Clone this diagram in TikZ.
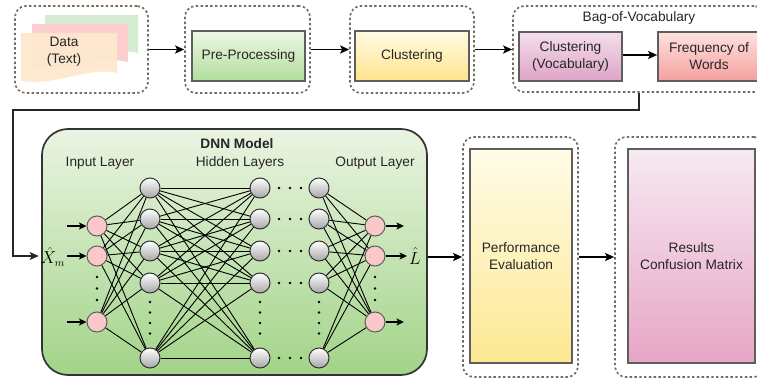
\documentclass[tikz,border=0pt]{standalone}
\usepackage{fontspec}
\setmainfont{Liberation Sans}
\usetikzlibrary{arrows.meta,calc}
\definecolor{dashc}{HTML}{756B5C}
\definecolor{boxc}{HTML}{5E5E5E}
\definecolor{txtc}{HTML}{262626}
\begin{document}
\begin{tikzpicture}[x=1pt,y=-1pt,
  every node/.style={font=\fontsize{13.7}{17}\selectfont, text=txtc},
  dashbox/.style={draw=dashc, line width=1.7pt, dash pattern=on 2.4pt off 2.4pt, rounded corners=11pt, inner sep=0pt},
  procbox/.style={draw=boxc, line width=1.7pt, inner sep=0pt, align=center},
  arr/.style={-{Stealth[length=9pt,width=8pt,inset=2pt]}, line width=1.7pt, draw=black},
  narr/.style={-{Stealth[length=7.5pt,width=7pt,inset=1.8pt]}, line width=1.4pt, draw=black},
  edge/.style={line width=0.9pt, draw=black},
  innode/.style={circle, draw=boxc, line width=1pt, fill={rgb,255:red,250;green,200;blue,200}, minimum size=20pt, inner sep=0pt},
  hnode/.style={circle, draw=black!80, line width=1pt, top color=white, bottom color=black!35, minimum size=20pt, inner sep=0pt},
  dotc/.style={circle, fill=black, inner sep=0pt, minimum size=2.8pt},
  mathlbl/.style={inner sep=2pt, text=black, font=\fontsize{16}{18}\selectfont},
]
\useasboundingbox (0,0) rectangle (757,379);
\clip (0,0) rectangle (757,379);

% ---------- top row ----------
\node[dashbox, minimum width=133pt, minimum height=87pt] (datad) at (81.5,49.5) {};
% pages
\fill[fill={rgb,255:red,214;green,236;blue,210}] (45,15) -- (138,15) -- (138,53) .. controls (110,46) and (80,64) .. (45,60) -- cycle;
\fill[fill={rgb,255:red,253;green,206;blue,206}] (32,24) -- (128,24) -- (128,62) .. controls (100,55) and (70,73) .. (32,69) -- cycle;
\fill[fill={rgb,255:red,254;green,232;blue,206}, fill opacity=0.95] (21,33) -- (117,33) -- (117,73) .. controls (89,66) and (58,86) .. (21,81) -- cycle;
\node[align=center] (data) at (64,52) {Data\\(Text)};

\node[dashbox, minimum width=125pt, minimum height=87pt] (pred) at (247.5,49.5) {};
\node[procbox, minimum width=113pt, minimum height=50pt, top color={rgb,255:red,236;green,247;blue,228}, bottom color={rgb,255:red,178;green,222;blue,156}] (pre) at (248.5,56) {Pre-Processing};

\node[dashbox, minimum width=124pt, minimum height=87pt] (clud) at (412,49.5) {};
\node[procbox, minimum width=114pt, minimum height=50pt, top color={rgb,255:red,255;green,251;blue,228}, bottom color={rgb,255:red,255;green,228;blue,140}] (clu) at (412,56) {Clustering};

\node[dashbox, minimum width=252pt, minimum height=86pt] (bag) at (639,49) {};
\node (baglabel) at (639,18) {Bag-of-Vocabulary};
\node[procbox, minimum width=103pt, minimum height=49pt, top color={rgb,255:red,244;green,222;blue,236}, bottom color={rgb,255:red,222;green,164;blue,198}] (cvoc) at (570.5,56.5) {Clustering\\(Vocabulary)};
\node[procbox, minimum width=102pt, minimum height=49pt, top color={rgb,255:red,254;green,226;blue,224}, bottom color={rgb,255:red,244;green,160;blue,158}] (freq) at (709,56.5) {Frequency of\\Words};

\draw[arr] (datad.east) -- (pred.west);
\draw[arr] (pred.east) -- (clud.west);
\draw[arr] (clud.east) -- (clud.east -| bag.west);
\draw[arr] (cvoc.east |- 0,55) -- (freq.west |- 0,55);

% ---------- DNN ----------
\node[draw=black!80, line width=1.7pt, rounded corners=26pt, minimum width=385pt, minimum height=246pt, inner sep=0pt, top color={rgb,255:red,234;green,244;blue,226}, bottom color={rgb,255:red,162;green,212;blue,136}] (dnn) at (234.5,252) {};
\node[font=\fontsize{13.7}{17}\selectfont\bfseries] (dnnlabel) at (237,144) {DNN Model};
\node (inlabel) at (100,163) {Input Layer};
\node (hidlabel) at (240,163) {Hidden Layers};
\node (outlabel) at (375,163) {Output Layer};

\foreach \i/\y in {1/226,2/256,3/322} {
  \node[innode] (i\i) at (97,\y) {};
  \node[innode] (o\i) at (375,\y) {};
}
\foreach \j/\y in {1/188,2/219,3/251,4/283,5/358} {
  \node[hnode] (a\j) at (150,\y) {};
  \node[hnode] (b\j) at (260,\y) {};
  \node[hnode] (c\j) at (319,\y) {};
}
\foreach \i in {1,2,3} \foreach \j in {1,...,5} {
  \draw[edge] (i\i) -- (a\j);
  \draw[edge] (c\j) -- (o\i);
}
\foreach \i in {1,...,5} \foreach \j in {1,...,5} {
  \draw[edge] (a\i) -- (b\j);
}
% dots
\foreach \y in {277,288.5,300} {
  \node[dotc] at (97,\y) {};
  \node[dotc] at (375,\y) {};
}
\foreach \y in {302,312.5,323,333.5} {
  \node[dotc] at (150,\y) {};
  \node[dotc] at (260,\y) {};
  \node[dotc] at (319,\y) {};
}
\foreach \y in {188,219,251,283,358} {
  \foreach \x in {279,290,301} { \node[dotc] at (\x,\y) {}; }
}

% input / output arrows
\node[mathlbl] (xm) at (53,257) {$\hat{X}_m$};
\node[mathlbl] (lhat) at (415,256) {$\hat{L}$};
\coordinate (ia1) at (67,226);
\coordinate (ia3) at (67,322);
\coordinate (oa1) at (404,226);
\coordinate (oa3) at (404,322);
\draw[narr] (ia1) -- (i1);
\draw[narr] (xm.east |- i2) -- (i2);
\draw[narr] (ia3) -- (i3);
\draw[narr] (o1) -- (oa1);
\draw[narr] (o2) -- (o2 -| lhat.west);
\draw[narr] (o3) -- (oa3);

% long connector
\coordinate (turn) at (13,110);
\draw[arr, draw=black!85, line width=1.9pt] (bag.south) |- (turn) |- (xm.west |- i2);

% ---------- bottom right ----------
\node[dashbox, minimum width=115pt, minimum height=240pt] (perfd) at (520.5,257) {};
\node[procbox, minimum width=102pt, minimum height=214pt, top color={rgb,255:red,255;green,252;blue,232}, bottom color={rgb,255:red,253;green,232;blue,146}] (perf) at (521,256) {Performance\\Evaluation};
\node[dashbox, minimum width=150pt, minimum height=240pt] (resd) at (690,257) {};
\node[procbox, minimum width=127pt, minimum height=214pt, top color={rgb,255:red,247;green,233;blue,242}, bottom color={rgb,255:red,231;green,166;blue,198}] (res) at (691.5,256) {Results\\Confusion Matrix};

\draw[arr] (dnn.east |- perfd.west) -- (perfd.west);
\draw[arr] (perfd.east) -- (resd.west);
\end{tikzpicture}
\end{document}
